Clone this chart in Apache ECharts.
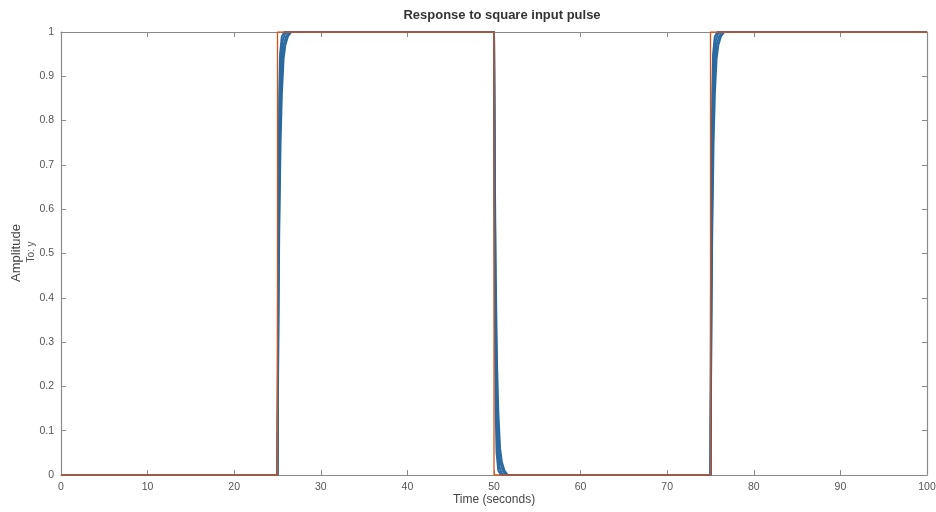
<!DOCTYPE html>
<html>
<head>
<meta charset="utf-8">
<title>Response to square input pulse</title>
<script src="https://cdn.jsdelivr.net/npm/echarts@6/dist/echarts.min.js"></script>
<style>
  html, body { margin: 0; padding: 0; background: #ffffff; }
  #chart { width: 936px; height: 512px; }
</style>
</head>
<body>
<div id="chart"></div>
<script>
// Square input pulse (the driving signal)
const inputTime = [0, 25, 25, 50, 50, 75, 75, 100];
const inputAmp  = [0, 0, 1, 1, 0, 0, 1, 1];

// Output responses (a bundle of traces with slightly different settling speeds)
const timeFast = [0, 25, 25.05, 25.1, 25.2, 25.3, 25.5, 25.8,
                  50, 50.05, 50.1, 50.2, 50.3, 50.5, 50.8,
                  75, 75.05, 75.1, 75.2, 75.3, 75.5, 75.8, 100];
const ampFast  = [0, 0, 0.39, 0.63, 0.86, 0.95, 0.99, 1,
                  1, 0.61, 0.37, 0.14, 0.05, 0.01, 0,
                  0, 0.39, 0.63, 0.86, 0.95, 0.99, 1, 1];

const timeMid = [0, 25, 25.1, 25.2, 25.3, 25.45, 25.6, 25.85, 26.2,
                 50, 50.1, 50.2, 50.3, 50.45, 50.6, 50.85, 51.2,
                 75, 75.1, 75.2, 75.3, 75.45, 75.6, 75.85, 76.2, 100];
const ampMid  = [0, 0, 0.49, 0.74, 0.86, 0.95, 0.98, 0.995, 1,
                 1, 0.51, 0.26, 0.14, 0.05, 0.02, 0.005, 0,
                 0, 0.49, 0.74, 0.86, 0.95, 0.98, 0.995, 1, 1];

const timeMid2 = [0, 25, 25.1, 25.2, 25.35, 25.5, 25.7, 26.0, 26.4,
                  50, 50.1, 50.2, 50.35, 50.5, 50.7, 51.0, 51.4,
                  75, 75.1, 75.2, 75.35, 75.5, 75.7, 76.0, 76.4, 100];
const ampMid2  = [0, 0, 0.39, 0.63, 0.83, 0.92, 0.97, 0.99, 1,
                  1, 0.61, 0.37, 0.17, 0.08, 0.03, 0.01, 0,
                  0, 0.39, 0.63, 0.83, 0.92, 0.97, 0.99, 1, 1];

const timeSlow = [0, 25, 25.1, 25.2, 25.35, 25.5, 25.7, 25.9, 26.2, 26.6,
                  50, 50.1, 50.2, 50.35, 50.5, 50.7, 50.9, 51.2, 51.6,
                  75, 75.1, 75.2, 75.35, 75.5, 75.7, 75.9, 76.2, 76.6, 100];
const ampSlow  = [0, 0, 0.33, 0.55, 0.75, 0.86, 0.94, 0.97, 0.99, 1,
                  1, 0.67, 0.45, 0.25, 0.14, 0.06, 0.03, 0.01, 0,
                  0, 0.33, 0.55, 0.75, 0.86, 0.94, 0.97, 0.99, 1, 1];

const xTicks = [0, 10, 20, 30, 40, 50, 60, 70, 80, 90, 100];
const yTicks = [0, 0.1, 0.2, 0.3, 0.4, 0.5, 0.6, 0.7, 0.8, 0.9, 1];

const zip = (t, v) => t.map((x, i) => [x, v[i]]);

const AXIS = '#8a8a8a';
const LABEL = '#555555';
const FONT = '"Liberation Sans", Arial, sans-serif';

const chart = echarts.init(document.getElementById('chart'), null, { renderer: 'canvas' });

const baseX = {
  type: 'value', min: xTicks[0], max: xTicks[xTicks.length - 1], interval: 10,
  splitLine: { show: false },
  axisLine: { show: true, onZero: false, lineStyle: { color: AXIS, width: 1.2 } },
  axisTick: { show: true, inside: true, length: 5, lineStyle: { color: AXIS } }
};
const baseY = {
  type: 'value', min: yTicks[0], max: yTicks[yTicks.length - 1], interval: 0.1,
  splitLine: { show: false },
  axisLine: { show: true, onZero: false, lineStyle: { color: AXIS, width: 1.2 } },
  axisTick: { show: true, inside: true, length: 5, lineStyle: { color: AXIS } }
};

const blueLine = (name, data) => ({
  name, type: 'line', data, showSymbol: false, symbol: 'none', z: 2,
  lineStyle: { color: '#2a6aa0', width: 2 }, animation: false
});

chart.setOption({
  backgroundColor: '#ffffff',
  animation: false,
  title: {
    text: 'Response to square input pulse',
    left: 497, top: 4, textAlign: 'center',
    textStyle: { fontFamily: FONT, fontSize: 13, fontWeight: 'bold', color: '#333333' }
  },
  grid: { left: 61, right: 9, top: 32, bottom: 37, containLabel: false, outerBoundsMode: 'none' },
  xAxis: [
    Object.assign({}, baseX, {
      position: 'bottom',
      axisLabel: { color: LABEL, fontFamily: FONT, fontSize: 10.5, margin: 7 }
    }),
    Object.assign({}, baseX, { position: 'top', axisLabel: { show: false } })
  ],
  yAxis: [
    Object.assign({}, baseY, {
      position: 'left',
      axisLabel: { color: LABEL, fontFamily: FONT, fontSize: 10.5, margin: 7,
        formatter: v => String(Math.round(v * 10) / 10) }
    }),
    Object.assign({}, baseY, { position: 'right', axisLabel: { show: false } })
  ],
  graphic: [
    { type: 'text', x: 494, y: 500,
      style: { text: 'Time (seconds)', fontFamily: FONT, fontSize: 12, fill: '#444444',
               align: 'center', verticalAlign: 'middle' } },
    { type: 'text', x: 16, y: 253, rotation: Math.PI / 2,
      style: { text: 'Amplitude', fontFamily: FONT, fontSize: 13, fill: '#444444',
               align: 'center', verticalAlign: 'middle' } },
    { type: 'text', x: 31, y: 252, rotation: Math.PI / 2,
      style: { text: 'To: y', fontFamily: FONT, fontSize: 10, fill: '#555555',
               align: 'center', verticalAlign: 'middle' } }
  ],
  series: [
    blueLine('output slow', zip(timeSlow, ampSlow)),
    blueLine('output mid 2', zip(timeMid2, ampMid2)),
    blueLine('output mid', zip(timeMid, ampMid)),
    blueLine('output fast', zip(timeFast, ampFast)),
    {
      name: 'input', type: 'line', data: zip(inputTime, inputAmp),
      showSymbol: false, symbol: 'none', z: 3,
      lineStyle: { color: '#D95319', width: 1.3 }
    }
  ]
});
</script>
</body>
</html>
